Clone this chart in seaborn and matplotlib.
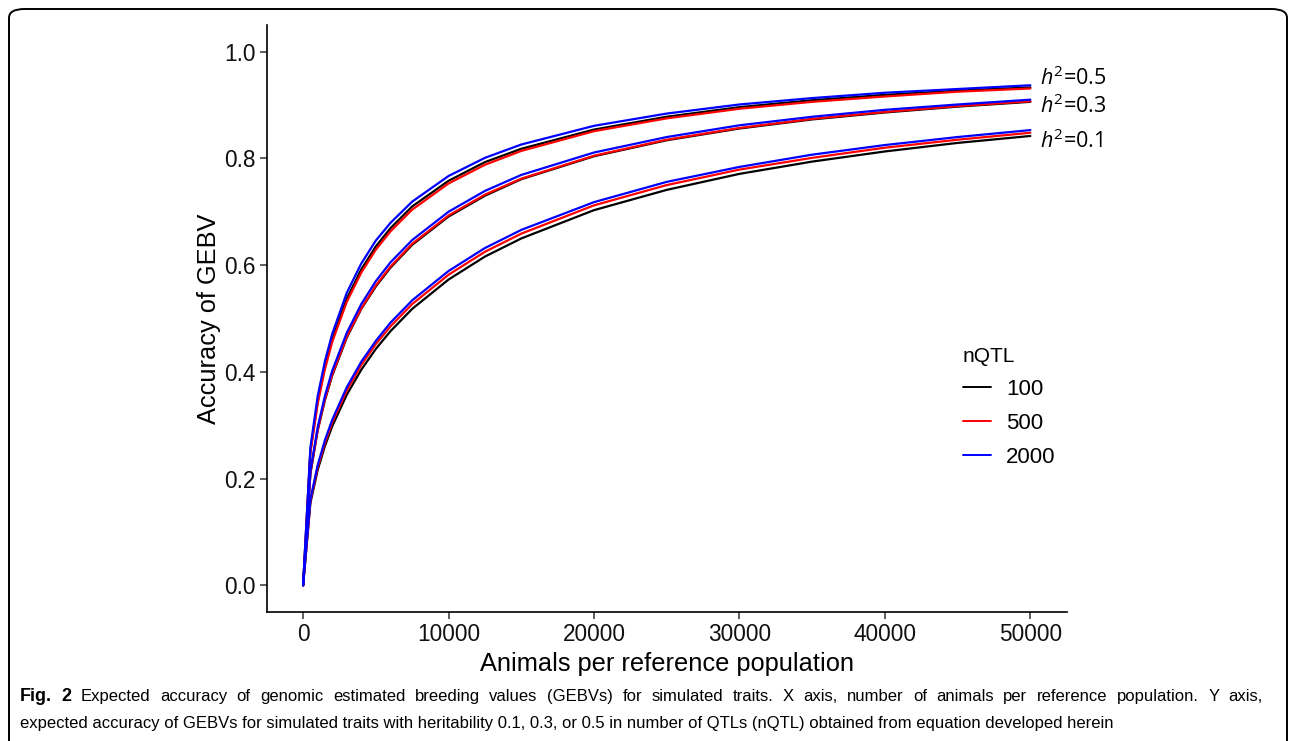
import pandas as pd
import seaborn as sns
import matplotlib.pyplot as plt
from matplotlib.patches import FancyBboxPatch
from matplotlib.lines import Line2D

# values
animals = [0, 500, 1000, 1500, 2000, 3000, 4000, 5000, 6000, 7500, 10000,
           12500, 15000, 20000, 25000, 30000, 35000, 40000, 45000, 50000]

# h2 = 0.1
acc_h01_q100 = [0, 0.154, 0.216, 0.261, 0.298, 0.357, 0.404, 0.443, 0.476, 0.518,
                0.573, 0.616, 0.650, 0.703, 0.741, 0.771, 0.794, 0.813, 0.829, 0.842]
acc_h01_q500 = [0, 0.158, 0.221, 0.267, 0.305, 0.365, 0.413, 0.452, 0.485, 0.527,
                0.582, 0.625, 0.659, 0.712, 0.750, 0.779, 0.801, 0.820, 0.835, 0.848]
acc_h01_q2000 = [0, 0.161, 0.225, 0.272, 0.310, 0.371, 0.419, 0.458, 0.492, 0.534,
                 0.589, 0.632, 0.666, 0.718, 0.756, 0.784, 0.807, 0.825, 0.840, 0.853]
# h2 = 0.3
acc_h03_q100 = [0, 0.209, 0.290, 0.347, 0.393, 0.464, 0.518, 0.560, 0.595, 0.638,
                0.691, 0.730, 0.761, 0.804, 0.834, 0.856, 0.873, 0.886, 0.897, 0.906]
acc_h03_q500 = [0, 0.210, 0.291, 0.349, 0.395, 0.466, 0.519, 0.562, 0.597, 0.640,
                0.693, 0.732, 0.762, 0.805, 0.835, 0.857, 0.874, 0.887, 0.898, 0.907]
acc_h03_q2000 = [0, 0.214, 0.296, 0.355, 0.402, 0.473, 0.527, 0.570, 0.605, 0.647,
                 0.700, 0.739, 0.769, 0.811, 0.840, 0.862, 0.878, 0.891, 0.901, 0.910]
# h2 = 0.5
acc_h05_q100 = [0, 0.252, 0.345, 0.411, 0.461, 0.537, 0.592, 0.635, 0.669, 0.710,
                0.758, 0.793, 0.818, 0.854, 0.878, 0.896, 0.909, 0.919, 0.927, 0.933]
acc_h05_q500 = [0, 0.248, 0.340, 0.405, 0.456, 0.531, 0.586, 0.629, 0.663, 0.704,
                0.753, 0.788, 0.814, 0.851, 0.875, 0.893, 0.906, 0.916, 0.925, 0.931]
acc_h05_q2000 = [0, 0.258, 0.354, 0.420, 0.471, 0.548, 0.603, 0.646, 0.679, 0.719,
                 0.767, 0.801, 0.826, 0.861, 0.884, 0.901, 0.913, 0.923, 0.930, 0.937]

nqtl_levels = [100, 500, 2000]
nqtl_colors = ["black", "red", "blue"]
yticks = [0.0, 0.2, 0.4, 0.6, 0.8, 1.0]
xticks = [0, 10000, 20000, 30000, 40000, 50000]

series = {
    ("0.1", 100): acc_h01_q100, ("0.1", 500): acc_h01_q500, ("0.1", 2000): acc_h01_q2000,
    ("0.3", 100): acc_h03_q100, ("0.3", 500): acc_h03_q500, ("0.3", 2000): acc_h03_q2000,
    ("0.5", 100): acc_h05_q100, ("0.5", 500): acc_h05_q500, ("0.5", 2000): acc_h05_q2000,
}
frames = []
for (h2, q), vals in series.items():
    frames.append(pd.DataFrame({"animals": animals, "accuracy": vals,
                                "h2": h2, "nQTL": q}))
df = pd.concat(frames, ignore_index=True)

caption1 = ("Expected accuracy of genomic estimated breeding values (GEBVs) for simulated traits. "
            "X axis, number of animals per reference population. Y axis,")
caption2 = ("expected accuracy of GEBVs for simulated traits with heritability 0.1, 0.3, or 0.5 "
            "in number of QTLs (nQTL) obtained from equation developed herein")

sns.set_theme(style="ticks")
plt.rcParams["font.family"] = ["Liberation Sans", "DejaVu Sans"]
plt.rcParams["text.color"] = "black"
plt.rcParams["axes.labelcolor"] = "black"
plt.rcParams["mathtext.fontset"] = "custom"
plt.rcParams["mathtext.it"] = "Open Sans:italic"
plt.rcParams["mathtext.rm"] = "Open Sans"

W, H = 1293, 741
fig = plt.figure(figsize=(W / 100, H / 100), dpi=100)
ax = fig.add_axes([0.2063, 0.1741, 0.6187, 0.7922])

palette = dict(zip(nqtl_levels, nqtl_colors))
sns.lineplot(data=df, x="animals", y="accuracy", hue="nQTL", units="h2",
             estimator=None, palette=palette, hue_order=nqtl_levels,
             linewidth=1.6, legend=False, ax=ax)

ax.set_xlim(-2500, 52500)
ax.set_ylim(-0.05, 1.05)
ax.set_xticks(xticks)
ax.set_yticks(yticks)
ax.set_xticklabels([str(t) for t in xticks])
ax.set_yticklabels([f"{t:.1f}" for t in yticks])
ax.tick_params(labelsize=16.3, length=5, width=1.1, color="#333333",
               labelcolor="#111111", pad=3)
for s in ["left", "bottom"]:
    ax.spines[s].set_linewidth(1.2)
    ax.spines[s].set_color("black")
sns.despine(ax=ax)
ax.set_xlabel("Animals per reference population", fontsize=18.3, labelpad=4)
ax.set_ylabel("Accuracy of GEBV", fontsize=18.3, labelpad=2)

# curve labels
for lab, yv in zip(["0.5", "0.3", "0.1"], [0.951, 0.897, 0.832]):
    ax.text(50650, yv, r"$h^2$" + "=" + lab, fontsize=15.5, va="center", ha="left",
            family=["Open Sans", "DejaVu Sans"], clip_on=False)

handles = [Line2D([], [], color=c, linewidth=1.4) for c in nqtl_colors]
leg = ax.legend(handles, [str(q) for q in nqtl_levels], title="nQTL",
                loc="upper left", bbox_to_anchor=(954 / W, 1 - 338 / H),
                bbox_transform=fig.transFigure, frameon=False, fontsize=16,
                title_fontsize=15, handlelength=1.25, handletextpad=0.7,
                labelspacing=0.58, alignment="left", borderaxespad=0)

# rounded frame around the figure
fig.patches.append(FancyBboxPatch((9 / W, -0.02), 1278 / W, 1 - 9 / H + 0.02,
                                  boxstyle="round,pad=0,rounding_size=0.012",
                                  transform=fig.transFigure, fill=False,
                                  edgecolor="black", linewidth=1.4))

# caption: first line justified to the frame width
cap_size = 12
x0, x1 = 20, 1263
y1, y2 = 1 - 701 / H, 1 - 728 / H
words = [("Fig.", "bold"), ("2", "bold")] + [(w, "normal") for w in caption1.split()]
objs = [fig.text(0, y1, w, fontsize=cap_size + (1 if wt == "bold" else 0),
                 fontweight=wt, va="baseline", ha="left") for w, wt in words]
fig.canvas.draw()
r = fig.canvas.get_renderer()
widths = [o.get_window_extent(r).width for o in objs]
gap = (x1 - x0 - sum(widths)) / (len(objs) - 1)
xp = x0
for o, wd in zip(objs, widths):
    o.set_x(xp / W)
    xp += wd + gap
fig.text(x0 / W, y2, caption2, fontsize=cap_size, va="baseline", ha="left")

fig.savefig("out.png", dpi=100)
